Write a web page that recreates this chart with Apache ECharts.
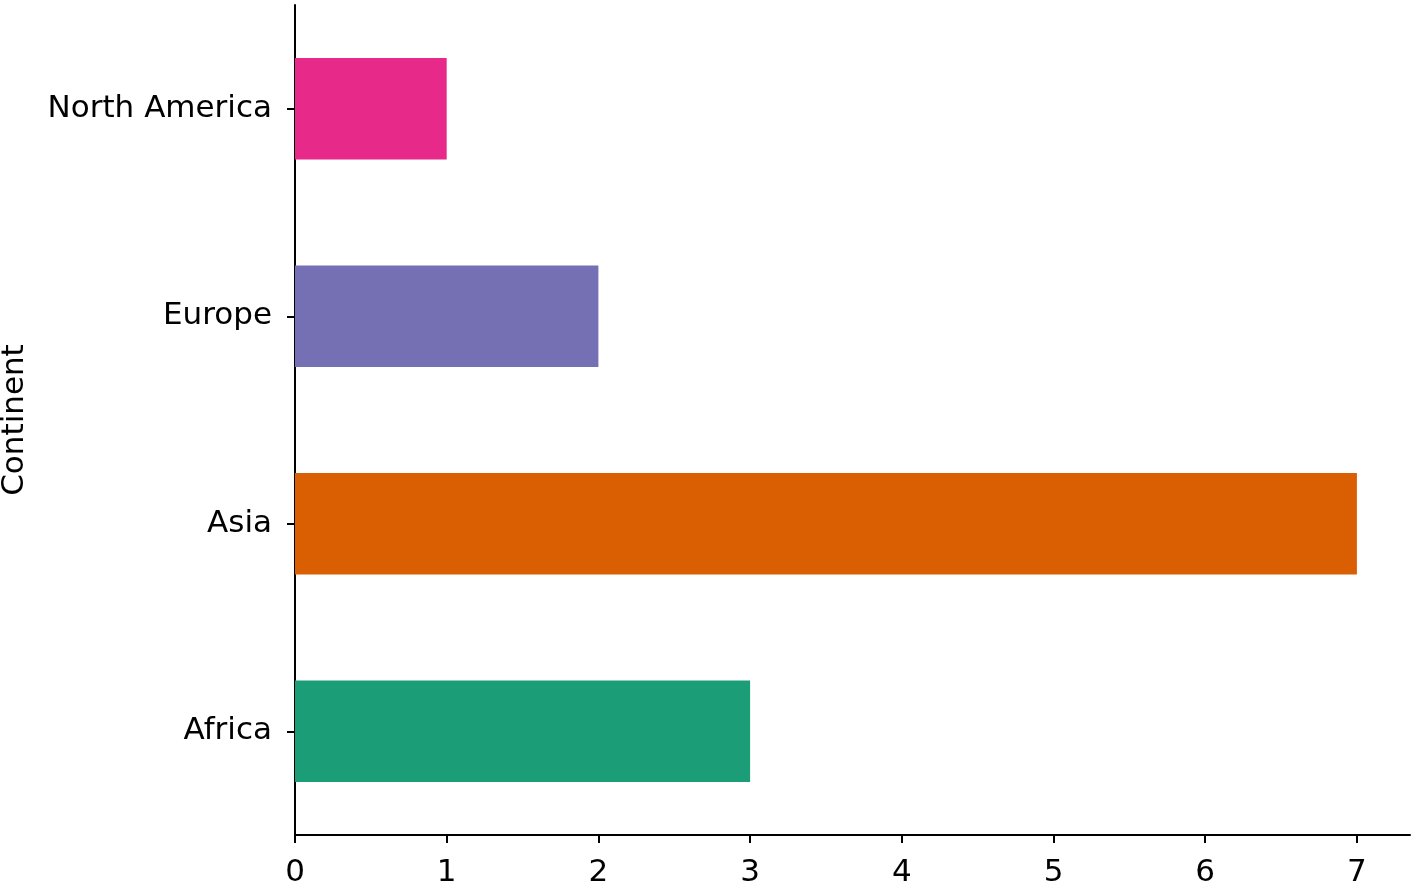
<!DOCTYPE html>
<html>
<head>
<meta charset="utf-8">
<script src="https://cdn.jsdelivr.net/npm/echarts@6/dist/echarts.min.js"></script>
<style>
html,body{margin:0;padding:0;background:#fff;}
#chart{width:1417px;height:884px;}
</style>
</head>
<body>
<div id="chart"></div>
<script>
const categories = ['Africa', 'Asia', 'Europe', 'North America'];
const counts = [3, 7, 2, 1];
const barColors = ['#1b9e77', '#d95f02', '#7570b3', '#e7298a'];
const xTicks = [0, 1, 2, 3, 4, 5, 6, 7];
const yAxisTitle = 'Continent';

const chart = echarts.init(document.getElementById('chart'), null, {renderer: 'canvas'});
const font = 'DejaVu Sans';
chart.setOption({
  animation: false,
  backgroundColor: '#ffffff',
  grid: {left: 295, right: 7, top: 5, bottom: 49, containLabel: false, outerBoundsMode: 'none'},
  xAxis: {
    type: 'value',
    min: 0,
    max: 7.35,
    interval: 1,
    splitLine: {show: false},
    axisLine: {show: true, onZero: false, lineStyle: {color: '#000', width: 2}},
    axisTick: {show: true, length: 8, lineStyle: {color: '#000', width: 2}, customValues: xTicks},
    axisLabel: {color: '#000', fontFamily: font, fontSize: 31, margin: 22, customValues: xTicks}
  },
  yAxis: {
    type: 'category',
    data: categories,
    boundaryGap: true,
    name: yAxisTitle,
    nameLocation: 'middle',
    nameGap: 265,
    nameTextStyle: {color: '#000', fontFamily: font, fontSize: 31},
    axisLine: {show: true, lineStyle: {color: '#000', width: 2}},
    axisTick: {show: true, alignWithLabel: true, length: 8, lineStyle: {color: '#000', width: 2}},
    axisLabel: {color: '#000', fontFamily: font, fontSize: 31, margin: 23, padding: [7, 0, 0, 0]},
    splitLine: {show: false}
  },
  series: [{
    type: 'bar',
    barWidth: '49%',
    data: counts.map((v, i) => ({value: v, itemStyle: {color: barColors[i]}})),
    itemStyle: {borderWidth: 0}
  }]
});
</script>
</body>
</html>
